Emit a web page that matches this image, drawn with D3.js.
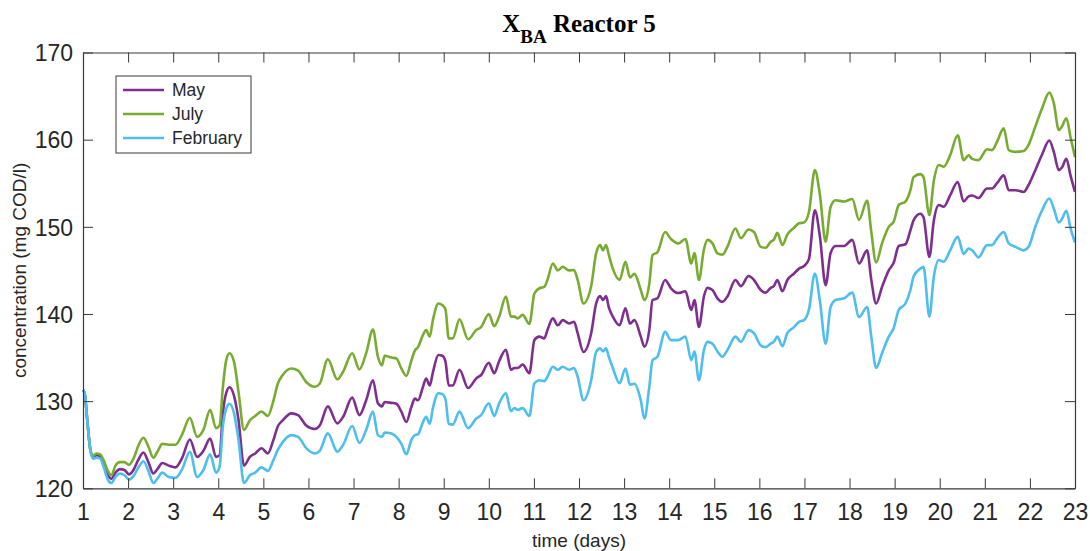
<html lang="en-US">
	<head>
		<title>XBA Reactor 5</title>
		<script src='https://d3js.org/d3.v7.min.js'></script>
		<style>
			body { margin: 0; background: #ffffff; }
		</style>
	</head>
	<body>
		<svg id="svgForReactorPlot" width=1090 height=551></svg>
	</body>
	<script>
        // time points (days), shared by all three series
        var days = [1.00, 1.04, 1.10, 1.16, 1.22, 1.30, 1.38, 1.46, 1.55, 1.63, 1.72, 1.82, 1.92, 2.02, 2.12, 2.22, 2.34, 2.45, 2.56, 2.65,
                    2.76, 2.90, 3.05, 3.20, 3.37, 3.53, 3.67, 3.82, 3.95, 4.03, 4.10, 4.18, 4.25, 4.35, 4.45, 4.57, 4.70, 4.82, 4.96, 5.10,
                    5.22, 5.32, 5.43, 5.62, 5.77, 5.95, 6.14, 6.25, 6.43, 6.64, 6.77, 6.97, 7.13, 7.28, 7.43, 7.54, 7.63, 7.69, 7.84, 7.95,
                    8.06, 8.17, 8.28, 8.36, 8.43, 8.54, 8.61, 8.69, 8.76, 8.88, 8.97, 9.04, 9.11, 9.20, 9.35, 9.54, 9.72, 9.83, 10.00, 10.12,
                    10.23, 10.38, 10.49, 10.57, 10.64, 10.75, 10.90, 11.01, 11.12, 11.23, 11.30, 11.42, 11.53, 11.64, 11.78, 11.89, 11.97, 12.10, 12.27, 12.38,
                    12.47, 12.53, 12.60, 12.66, 12.75, 12.90, 13.03, 13.13, 13.23, 13.37, 13.45, 13.56, 13.63, 13.74, 13.91, 14.04, 14.20, 14.36, 14.49, 14.56,
                    14.66, 14.77, 14.85, 14.96, 15.07, 15.18, 15.29, 15.47, 15.59, 15.76, 15.88, 16.03, 16.14, 16.25, 16.32, 16.40, 16.51, 16.62, 16.77, 16.88,
                    16.99, 17.10, 17.23, 17.34, 17.47, 17.58, 17.69, 17.88, 18.06, 18.21, 18.39, 18.48, 18.59, 18.72, 18.87, 18.98, 19.09, 19.24, 19.35, 19.42,
                    19.57, 19.64, 19.77, 19.87, 19.98, 20.09, 20.23, 20.40, 20.53, 20.64, 20.72, 20.86, 21.05, 21.16, 21.27, 21.42, 21.53, 21.68, 21.86, 21.97,
                    22.12, 22.27, 22.43, 22.53, 22.64, 22.71, 22.81, 22.90, 23.00];

        var may = [131.3, 130.8, 127.5, 124.5, 123.6, 123.8, 123.7, 122.8, 121.5, 121.1, 121.8, 122.2, 122.1, 121.6, 122.1, 123.2, 124.1, 123.0, 121.7, 122.2,
                   122.9, 122.6, 122.4, 123.5, 125.6, 123.6, 124.3, 125.7, 123.6, 123.8, 128.5, 131.0, 131.6, 130.6, 127.8, 122.6, 123.6, 124.0, 124.6, 124.0,
                   125.5, 127.1, 127.8, 128.6, 128.4, 127.2, 126.8, 127.2, 129.4, 127.45, 128.2, 130.4, 128.4, 130.1, 132.4, 129.75, 129.4, 129.9, 129.8, 129.7,
                   128.8, 127.6, 129.3, 130.3, 130.1, 131.65, 132.6, 131.8, 133.3, 135.3, 135.2, 134.5, 131.8, 131.8, 133.6, 131.5, 132.6, 133.0, 134.4, 133.2,
                   134.6, 135.9, 133.6, 133.8, 133.8, 134.2, 133.2, 137.0, 137.4, 137.2, 138.15, 139.5, 138.7, 139.3, 138.9, 139.1, 137.8, 135.65, 137.8, 141.2,
                   142.05, 141.6, 142.05, 140.8, 139.7, 138.7, 140.65, 138.9, 139.3, 137.4, 136.25, 138.2, 141.6, 141.8, 143.9, 142.95, 142.4, 142.6, 140.45, 141.6,
                   138.5, 142.0, 143.0, 142.75, 141.8, 141.4, 142.0, 143.9, 143.2, 144.35, 143.9, 142.75, 142.45, 143.0, 143.2, 143.9, 142.6, 143.9, 144.65, 145.2,
                   145.5, 146.3, 151.9, 149.0, 143.3, 147.0, 147.8, 147.8, 148.5, 145.8, 147.3, 144.0, 141.2, 143.1, 145.0, 145.9, 147.8, 148.0, 149.6, 150.75,
                   151.5, 151.1, 146.55, 150.75, 152.5, 152.3, 153.6, 155.15, 152.9, 153.5, 153.6, 153.3, 154.4, 154.4, 155.0, 155.9, 154.2, 154.2, 154.0, 154.8,
                   156.5, 158.3, 159.9, 158.6, 156.5, 156.8, 157.8, 155.9, 154.0];

        var july = [131.3, 130.8, 127.5, 124.5, 123.7, 124.0, 123.9, 123.2, 122.0, 121.5, 122.6, 123.0, 123.0, 122.7, 123.4, 124.8, 125.8, 124.8, 123.5, 124.2,
                    125.1, 125.0, 125.0, 126.2, 128.1, 125.9, 126.7, 129.0, 126.9, 127.2, 131.5, 134.8, 135.5, 134.5, 131.0, 126.7, 127.8, 128.3, 128.8, 128.3,
                    130.0, 132.0, 133.0, 133.75, 133.5, 132.2, 131.65, 132.0, 134.8, 132.5, 133.4, 135.5, 133.65, 135.5, 138.2, 135.1, 134.1, 135.2, 135.0, 134.9,
                    133.75, 132.9, 134.6, 135.8, 136.2, 137.6, 138.15, 137.4, 139.3, 141.2, 141.0, 140.5, 137.2, 137.2, 139.4, 137.1, 138.15, 138.5, 140.0, 138.6,
                    139.7, 142.0, 139.7, 139.7, 139.5, 139.9, 138.85, 142.35, 142.95, 143.1, 143.9, 145.8, 145.0, 145.4, 145.0, 145.05, 143.9, 141.2, 143.2, 146.95,
                    147.9, 147.3, 147.9, 146.8, 145.2, 143.9, 146.0, 144.2, 144.6, 142.75, 141.6, 143.5, 146.75, 147.1, 149.4, 148.6, 148.1, 148.6, 145.8, 147.0,
                    143.9, 147.4, 148.5, 148.1, 146.95, 146.8, 147.7, 149.8, 148.7, 149.7, 149.4, 147.7, 147.6, 148.3, 148.5, 149.3, 147.9, 149.1, 149.9, 150.4,
                    150.5, 151.7, 156.5, 153.8, 148.3, 152.3, 153.05, 152.9, 153.2, 150.8, 153.0, 149.5, 145.9, 148.1, 150.0, 150.6, 152.5, 152.9, 154.2, 155.7,
                    156.05, 155.7, 151.35, 155.3, 157.1, 156.9, 158.2, 160.5, 157.65, 158.2, 157.8, 157.65, 158.9, 158.8, 159.75, 161.3, 158.8, 158.6, 158.7, 159.4,
                    161.5, 163.6, 165.4, 164.2, 161.1, 161.5, 162.45, 160.3, 158.0];

        var february = [131.3, 130.8, 127.5, 124.5, 123.4, 123.5, 123.4, 122.4, 121.0, 120.6, 121.3, 121.7, 121.5, 121.0, 121.4, 122.3, 123.1, 122.0, 120.6, 121.1,
                        121.8, 121.3, 121.2, 122.2, 124.2, 121.3, 122.1, 123.9, 121.8, 122.5, 127.0, 129.2, 129.7, 128.6, 125.5, 120.6, 121.5, 121.8, 122.4, 122.0,
                        123.2, 124.4, 125.3, 126.1, 125.9, 124.6, 124.0, 124.3, 126.3, 124.2, 125.0, 127.15, 125.2, 126.7, 128.8, 126.1, 125.9, 126.4, 126.3, 125.9,
                        125.1, 123.9, 125.5, 126.1, 126.2, 127.6, 128.2, 127.4, 129.2, 130.9, 130.8, 130.2, 127.4, 127.3, 128.8, 126.9, 128.0, 128.4, 129.75, 128.3,
                        129.75, 130.9, 128.85, 129.2, 129.0, 129.2, 128.3, 132.05, 132.4, 132.3, 132.8, 133.95, 133.6, 133.95, 133.6, 133.8, 132.8, 130.1, 132.4, 135.65,
                        136.05, 135.7, 136.05, 135.1, 133.8, 132.05, 133.75, 131.9, 132.0, 130.1, 128.0, 131.7, 134.7, 135.1, 137.95, 137.0, 137.0, 137.4, 134.7, 135.7,
                        132.4, 135.85, 136.8, 136.6, 135.7, 135.1, 135.85, 137.4, 136.8, 138.15, 137.8, 136.4, 136.2, 136.6, 136.8, 137.4, 136.3, 137.8, 138.5, 139.1,
                        139.3, 140.5, 144.65, 141.6, 136.6, 140.8, 141.6, 141.8, 142.45, 139.65, 140.8, 137.5, 133.8, 135.5, 137.4, 138.4, 140.45, 141.2, 142.75, 144.3,
                        145.2, 145.4, 139.7, 144.3, 146.2, 146.0, 147.3, 148.85, 146.9, 147.5, 147.3, 146.5, 147.9, 147.9, 148.65, 149.4, 148.1, 147.7, 147.3, 147.7,
                        150.0, 151.9, 153.25, 152.1, 150.5, 150.9, 151.85, 149.85, 148.2];

        var seriesNames = ["May", "July", "February"];
        var seriesColors = ["#7E2F8E", "#77AC30", "#4DBEEE"];
        var xTicks = [1, 2, 3, 4, 5, 6, 7, 8, 9, 10, 11, 12, 13, 14, 15, 16, 17, 18, 19, 20, 21, 22, 23];
        var yTicks = [120, 130, 140, 150, 160, 170];

        // plot box edges (window.top is taken, so use own names)
        var plotLeft = 83, plotRight = 1075, plotTop = 52.5, plotBottom = 488.3;
        var xScale = d3.scaleLinear().domain([1, 23]).range([plotLeft, plotRight]);
        var yScale = d3.scaleLinear().domain([120, 170]).range([plotBottom, plotTop]);
        var axisColor = "#3a3a3a";
        var tickFont = "'Liberation Sans', Arial, Helvetica, sans-serif";

        var svg = d3.select("#svgForReactorPlot");

        // the three curves, May first so February ends up on top
        var allSeries = [may, july, february];
        var line = d3.line()
                     .x(function(d, i) { return xScale(days[i]) })
                     .y(function(d) { return yScale(d) })
                     .curve(d3.curveMonotoneX);
        allSeries.forEach(function(values, k) {
            svg.append("path")
               .datum(values)
               .attr("fill", "none")
               .attr("stroke", seriesColors[k])
               .attr("stroke-width", 2.6)
               .attr("stroke-linejoin", "round")
               .attr("d", line);
        });

        // axes, ticks pointing inward like matlab's box
        var bottomAxis = svg.append("g")
           .attr("transform", "translate(0," + plotBottom + ")")
           .call(d3.axisBottom(xScale).tickValues(xTicks).tickSizeInner(-10).tickSizeOuter(0).tickPadding(15));
        var leftAxis = svg.append("g")
           .attr("transform", "translate(" + plotLeft + ",0)")
           .call(d3.axisLeft(yScale).tickValues(yTicks).tickSizeInner(-10).tickSizeOuter(0).tickPadding(10));
        svg.append("g")
           .attr("transform", "translate(0," + plotTop + ")")
           .call(d3.axisTop(xScale).tickValues(xTicks).tickSizeInner(-10).tickSizeOuter(0).tickFormat(""));
        svg.append("g")
           .attr("transform", "translate(" + plotRight + ",0)")
           .call(d3.axisRight(yScale).tickValues(yTicks).tickSizeInner(-10).tickSizeOuter(0).tickFormat(""));

        svg.selectAll(".domain").attr("stroke", axisColor).attr("stroke-width", 1.2);
        svg.selectAll(".tick line").attr("stroke", axisColor).attr("stroke-width", 1);
        svg.selectAll(".tick text")
           .attr("fill", "#262626")
           .attr("font-family", tickFont)
           .attr("font-size", "23px");
        bottomAxis.selectAll(".tick text").attr("dy", "0.71em");
        leftAxis.selectAll(".tick text").attr("dy", "0.36em");

        // axis labels
        svg.append("text")
           .attr("text-anchor", "middle")
           .attr("x", (plotLeft + plotRight) / 2)
           .attr("y", 547)
           .attr("font-family", tickFont)
           .attr("font-size", "19px")
           .attr("fill", "#262626")
           .text("time (days)");
        svg.append("text")
           .attr("text-anchor", "middle")
           .attr("transform", "translate(26," + ((plotTop + plotBottom) / 2) + ") rotate(-90)")
           .attr("font-family", tickFont)
           .attr("font-size", "19px")
           .attr("fill", "#262626")
           .text("concentration (mg COD/l)");

        // title with subscript
        var title = svg.append("text")
           .attr("text-anchor", "middle")
           .attr("x", (plotLeft + plotRight) / 2)
           .attr("y", 32)
           .attr("font-family", "'Liberation Serif', 'Times New Roman', serif")
           .attr("font-weight", "bold")
           .attr("font-size", "25px")
           .attr("fill", "#000000");
        title.append("tspan").text("X");
        title.append("tspan").attr("font-size", "19px").attr("dy", 11).text("BA");
        title.append("tspan").attr("dy", -11).text(" Reactor 5");

        // legend
        var legend = svg.append("g");
        legend.append("rect")
              .attr("x", 116).attr("y", 76)
              .attr("width", 135).attr("height", 77)
              .attr("fill", "#ffffff")
              .attr("stroke", axisColor)
              .attr("stroke-width", 1);
        seriesNames.forEach(function(name, k) {
            var ly = 90 + k * 24;
            legend.append("line")
                  .attr("x1", 123).attr("x2", 164)
                  .attr("y1", ly).attr("y2", ly)
                  .attr("stroke", seriesColors[k])
                  .attr("stroke-width", 2.6);
            legend.append("text")
                  .attr("x", 172).attr("y", ly)
                  .attr("dy", "0.35em")
                  .attr("font-family", tickFont)
                  .attr("font-size", "17.5px")
                  .attr("fill", "#262626")
                  .text(name);
        });
	</script>
</html>
